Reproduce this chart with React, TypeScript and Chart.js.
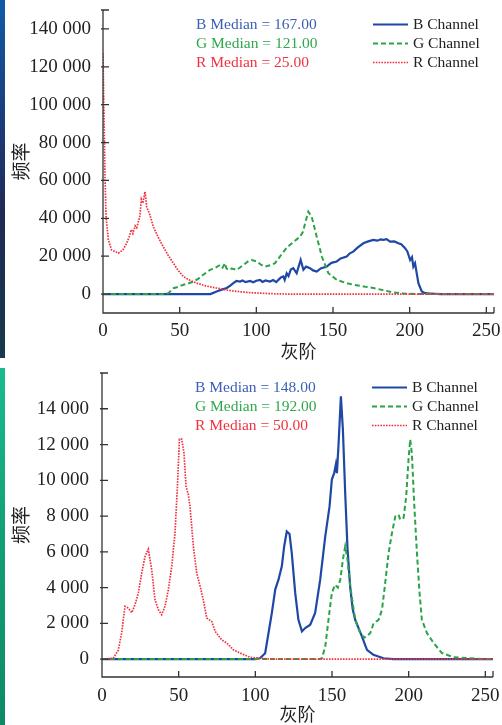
import React, { useEffect, useRef } from "react";
import { Chart, registerables } from "chart.js";

Chart.register(...registerables);

// ---------- tick labels / text ----------
const xTickValues = [0, 50, 100, 150, 200, 250];
const topYTicks = [0, 20000, 40000, 60000, 80000, 100000, 120000, 140000];
const bottomYTicks = [0, 2000, 4000, 6000, 8000, 10000, 12000, 14000];
const topMedians = ["B Median = 167.00", "G Median = 121.00", "R Median = 25.00"];
const bottomMedians = ["B Median = 148.00", "G Median = 192.00", "R Median = 50.00"];
const channelNames = ["B Channel", "G Channel", "R Channel"];
const xTitle = "灰阶";
const yTitle = "频率";

// ---------- top chart series ----------
const topBX = [0, 70, 74.1, 77, 80.7, 83, 85, 87, 89.4, 91, 93, 95.9, 98, 100, 102.4, 104, 106, 108.9, 111, 113, 114.4, 116, 117.6, 118.5, 119.8, 121, 122.5, 124.1, 126.3, 128.9, 130.7, 132.5, 135, 137, 139.4, 142, 145.9, 149, 152.4, 155, 158.9, 161, 163.2, 166, 169.8, 173, 176.3, 179, 181, 182.8, 185, 187.2, 190, 192.6, 194.5, 197, 198.5, 200.3, 201.5, 202.4, 203.5, 205.7, 207.9, 210, 213.3, 220, 255];
const topBY = [0, 0, 1400, 2200, 3200, 4500, 5800, 6900, 6600, 7200, 6300, 6900, 6200, 7000, 7500, 6400, 7200, 6600, 7400, 6300, 7500, 8800, 9300, 7500, 11000, 9500, 13000, 13700, 11000, 18000, 12800, 14500, 13700, 12500, 11900, 13500, 14500, 16500, 17200, 18800, 19800, 21500, 22400, 24500, 26800, 27800, 28600, 28200, 28900, 28600, 29000, 27700, 27800, 26800, 26300, 24200, 22500, 18000, 19500, 14500, 16300, 5800, 1400, 500, 300, 0, 0];

const topGX = [0, 40, 42.6, 46, 49, 52.4, 55.5, 58.9, 62, 65.4, 69.8, 73, 76.3, 78, 79.6, 80.5, 81.8, 84, 87.3, 91.6, 95, 97, 100.3, 103, 105.7, 109, 112.2, 116, 119.8, 122, 125, 128.5, 130.5, 131.8, 133.9, 136.1, 139.4, 142.7, 147, 152.5, 158, 163.3, 170, 176.3, 183, 189.4, 196, 205, 255];
const topGY = [0, 0, 500, 3100, 3800, 4900, 5600, 6600, 8000, 10200, 12800, 13700, 15400, 14000, 16300, 13500, 12800, 13500, 12800, 15400, 17500, 18000, 17200, 15500, 14500, 15200, 16300, 20500, 24500, 26000, 28000, 30300, 33000, 37400, 43500, 40800, 30300, 19800, 11000, 7500, 6000, 4900, 4000, 3200, 2000, 800, 300, 0, 0];

const topRX = [0, 1.3, 2, 3.5, 5.6, 10, 13, 15.4, 17, 18.5, 19.5, 21, 22, 24, 25, 26, 27.4, 28, 28.5, 29.5, 30.5, 32.8, 36, 39.3, 42.5, 45.9, 49, 52.4, 56, 61, 67, 74, 80, 87, 95, 102, 110, 120, 255];
const topRY = [127000, 62000, 41000, 28600, 23300, 21600, 23300, 26800, 30000, 34000, 32000, 36000, 35000, 41000, 50000, 48000, 54000, 50000, 46000, 44000, 42000, 35600, 30000, 25000, 20500, 16300, 12500, 9300, 7500, 5800, 4300, 3200, 2200, 1400, 800, 500, 200, 0, 0];

// ---------- bottom chart series ----------
const botBX = [0, 100, 103, 106.4, 108.6, 110.8, 113, 115.1, 117.3, 118.8, 120.5, 122.3, 123.8, 126, 128.1, 130.4, 132.5, 135.8, 139, 142.3, 145.6, 148.4, 149.9, 151.4, 152.5, 153.2, 154.2, 155.8, 157.1, 158.6, 160.1, 161.9, 163.5, 165.1, 167, 169.5, 172.8, 177, 183.6, 190, 255];
const botBY = [0, 0, 50, 330, 1460, 2600, 3900, 4440, 5200, 6300, 7140, 7000, 5900, 3700, 2200, 1550, 1740, 1920, 2580, 4440, 6860, 8540, 10040, 10400, 10880, 10400, 11900, 14700, 12840, 9300, 6200, 4000, 2800, 2200, 1800, 1270, 520, 240, 50, 0, 0];

const botGX = [0, 142, 143.4, 145.6, 147.7, 149.9, 152, 153.8, 155.4, 157.1, 158.6, 160.1, 161.9, 165.1, 168.4, 171, 173, 175, 177.1, 180.4, 182.6, 184.7, 186.9, 189.1, 191.3, 193.4, 194.5, 196.7, 198.4, 199.9, 201, 202.1, 203.6, 205.4, 207.1, 208.6, 211.9, 216.3, 221.7, 229.3, 240, 250, 255];
const botGY = [0, 0, 50, 700, 2200, 3700, 4160, 4000, 4440, 5560, 6300, 5560, 4070, 2200, 1460, 1200, 1300, 1460, 2000, 2200, 2760, 4260, 5930, 7050, 7980, 8080, 7800, 7900, 9100, 11160, 12280, 11500, 8700, 5930, 3700, 2200, 1460, 900, 340, 110, 50, 0, 0];

const botRX = [0, 7.4, 10.6, 12.8, 15, 17.2, 19.4, 21.5, 23.7, 25.9, 28.1, 30.2, 32.4, 34.6, 36.8, 38.9, 41.1, 43.3, 45.5, 47.6, 49.2, 50.5, 52, 53.5, 54.8, 56.3, 57.4, 59.6, 61.8, 64, 66.1, 68.3, 71.6, 73.8, 78.1, 81.4, 85.7, 90, 96.6, 110, 255];
const botRY = [0, 50, 500, 1460, 2950, 2850, 2600, 3040, 3700, 4800, 5750, 6150, 5000, 3300, 2760, 2480, 2950, 3900, 5200, 7050, 9660, 12300, 12300, 11500, 9660, 9200, 8540, 6300, 4800, 4070, 3300, 2300, 2100, 1550, 1080, 900, 520, 340, 100, 0, 0];

// ---------- styles ----------
const AXIS_COLOR = "#333333";
const TEXT_COLOR = "#222222";
const SERIF = "'Liberation Serif', 'DejaVu Serif', serif";
const CJK = "'Noto Sans CJK SC', 'Noto Sans', sans-serif";
const LINE_STYLES = [
  { color: "#1f48a6", width: 2.2, dash: [] as number[] },
  { color: "#2aa448", width: 2.0, dash: [5, 3] },
  { color: "#f2313f", width: 1.7, dash: [1.6, 1.2] },
];
const MEDIAN_COLORS = ["#3a5fb6", "#2ea84c", "#f2313f"];

function fmt(v: number) {
  return String(v).replace(/\B(?=(\d{3})+(?!\d))/g, " ");
}
function toPoints(xs: number[], ys: number[]) {
  return xs.map((x, i) => ({ x, y: ys[i] }));
}

type Props = {
  height: number;
  yMin: number;
  yMax: number;
  yTicks: number[];
  medians: string[];
  series: { xs: number[]; ys: number[] }[];
  leftWidth: number;
  padTop: number;
  padRight: number;
  xAxisHeight: number;
  xTickPad: number;
  yTickPad: number;
};

function HistChart(p: Props) {
  const ref = useRef<HTMLCanvasElement>(null);
  useEffect(() => {
    const canvas = ref.current!;
    const overlay = {
      id: "overlay",
      afterDraw(chart: any) {
        const { ctx, chartArea: a, scales } = chart;
        const xs = scales.x;
        const ys = scales.y;
        ctx.save();
        ctx.strokeStyle = AXIS_COLOR;
        ctx.lineWidth = 1.3;
        ctx.setLineDash([]);
        ctx.beginPath();
        ctx.moveTo(a.left, a.top);
        ctx.lineTo(a.left, a.bottom);
        ctx.lineTo(a.right, a.bottom);
        for (const v of [...xTickValues, xs.max]) {
          const px = xs.getPixelForValue(v);
          ctx.moveTo(px, a.bottom);
          ctx.lineTo(px, a.bottom - 6);
        }
        for (const v of [...p.yTicks, ys.max]) {
          const py = ys.getPixelForValue(v);
          ctx.moveTo(a.left - 2, py);
          ctx.lineTo(a.left + 6, py);
        }
        ctx.stroke();

        const rows = [14.5, 33.5, 52.5];
        ctx.font = `15.5px ${SERIF}`;
        ctx.textBaseline = "middle";
        ctx.textAlign = "left";
        p.medians.forEach((t, i) => {
          ctx.fillStyle = MEDIAN_COLORS[i];
          ctx.fillText(t, a.left + 93, a.top + rows[i]);
        });
        channelNames.forEach((t, i) => {
          const yy = a.top + rows[i];
          const st = LINE_STYLES[i];
          ctx.strokeStyle = st.color;
          ctx.lineWidth = st.width;
          ctx.setLineDash(st.dash);
          ctx.beginPath();
          ctx.moveTo(a.left + 270, yy);
          ctx.lineTo(a.left + 305, yy);
          ctx.stroke();
          ctx.setLineDash([]);
          ctx.fillStyle = TEXT_COLOR;
          ctx.fillText(t, a.left + 310, yy);
        });
        ctx.restore();
      },
    };

    const chart = new Chart(canvas, {
      type: "line",
      data: {
        datasets: p.series.map((s, i) => ({
          label: channelNames[i],
          data: toPoints(s.xs, s.ys),
          borderColor: LINE_STYLES[i].color,
          borderWidth: LINE_STYLES[i].width,
          borderDash: LINE_STYLES[i].dash,
          pointRadius: 0,
          tension: 0,
          fill: false,
          order: 2 - i,
        })),
      },
      options: {
        animation: false,
        responsive: false,
        maintainAspectRatio: false,
        events: [],
        layout: { padding: { top: p.padTop, right: p.padRight, left: 0, bottom: 0 } },
        plugins: { legend: { display: false }, tooltip: { enabled: false } },
        scales: {
          x: {
            type: "linear",
            min: 0,
            max: 255,
            afterBuildTicks: (s: any) => {
              s.ticks = xTickValues.map((v) => ({ value: v }));
            },
            afterFit: (s: any) => {
              s.height = p.xAxisHeight;
              s.paddingLeft = 0;
              s.paddingRight = 0;
            },
            grid: { display: false },
            border: { display: false },
            ticks: {
              autoSkip: false,
              maxRotation: 0,
              padding: p.xTickPad,
              color: TEXT_COLOR,
              font: { family: SERIF, size: 19 },
              callback: (v: any) => fmt(Number(v)),
            },
            title: {
              display: true,
              text: xTitle,
              color: TEXT_COLOR,
              font: { family: CJK, size: 18 },
              padding: { top: 0, bottom: 0 },
            },
          },
          y: {
            type: "linear",
            min: p.yMin,
            max: p.yMax,
            afterBuildTicks: (s: any) => {
              s.ticks = p.yTicks.map((v) => ({ value: v }));
            },
            afterFit: (s: any) => {
              s.width = p.leftWidth;
              s.paddingTop = 0;
              s.paddingBottom = 0;
            },
            grid: { display: false },
            border: { display: false },
            ticks: {
              autoSkip: false,
              padding: p.yTickPad,
              color: TEXT_COLOR,
              font: { family: SERIF, size: 19 },
              callback: (v: any) => fmt(Number(v)),
            },
            title: {
              display: true,
              text: yTitle,
              color: TEXT_COLOR,
              font: { family: CJK, size: 19 },
              padding: { top: 9, bottom: 0 },
            },
          },
        },
      },
      plugins: [overlay],
    } as any);
    return () => chart.destroy();
  }, []);
  return (
    <canvas
      ref={ref}
      width={502}
      height={p.height}
      style={{ display: "block", width: 502, height: p.height }}
    />
  );
}

export default function App() {
  return (
    <div
      style={{
        position: "absolute",
        left: 0,
        top: 0,
        width: 502,
        height: 725,
        background: "#ffffff",
        overflow: "hidden",
      }}
    >
      <div
        style={{
          position: "absolute",
          left: 0,
          top: 0,
          width: 5,
          height: 358,
          background: "linear-gradient(to bottom, #0f5ba8 0%, #1d3b78 35%, #202a55 60%, #173a4c 100%)",
        }}
      />
      <div
        style={{
          position: "absolute",
          left: 0,
          top: 368,
          width: 5,
          height: 357,
          background: "linear-gradient(to bottom, #1bbb8e 0%, #139e75 50%, #0e8a64 100%)",
        }}
      />
      <div style={{ position: "absolute", left: 0, top: 0 }}>
        <HistChart
          height={362}
          yMin={-10000}
          yMax={150000}
          yTicks={topYTicks}
          medians={topMedians}
          series={[
            { xs: topBX, ys: topBY },
            { xs: topGX, ys: topGY },
            { xs: topRX, ys: topRY },
          ]}
          leftWidth={103}
          padTop={10}
          padRight={8}
          xAxisHeight={49}
          xTickPad={-1}
          yTickPad={4}
        />
      </div>
      <div style={{ position: "absolute", left: 0, top: 362 }}>
        <HistChart
          height={363}
          yMin={-1000}
          yMax={16000}
          yTicks={bottomYTicks}
          medians={bottomMedians}
          series={[
            { xs: botBX, ys: botBY },
            { xs: botGX, ys: botGY },
            { xs: botRX, ys: botRY },
          ]}
          leftWidth={102}
          padTop={11}
          padRight={9}
          xAxisHeight={48}
          xTickPad={0}
          yTickPad={5}
        />
      </div>
    </div>
  );
}
